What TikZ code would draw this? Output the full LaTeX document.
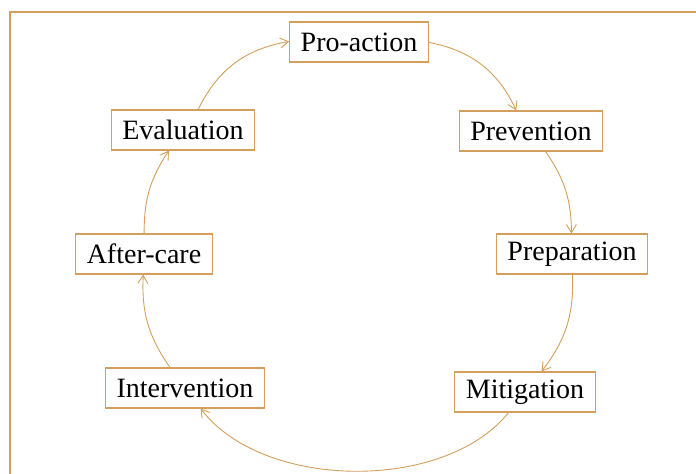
\documentclass[tikz,border=0pt]{standalone}
\usepackage{fontspec}
\setmainfont{Liberation Serif}
\usetikzlibrary{arrows.meta}
\definecolor{tan}{RGB}{212,158,92}

\begin{document}
\begin{tikzpicture}[x=0.5pt,y=-0.5pt,
  stage/.style={draw=tan,line width=0.6pt,fill=white,minimum height=20pt,inner xsep=5.5pt,
    font=\fontsize{14}{16}\selectfont},
  flow/.style={draw=tan,line width=0.45pt,-{Straight Barb[length=4pt,width=5pt]}}]
\useasboundingbox (0,0) rectangle (696,474);
% frame
\draw[tan,line width=0.6pt] (10,474) -- (10,12) -- (696,12);
% stages
\node[stage] (pro)  at (359,42)  {Pro-action};
\node[stage] (prev) at (531,131) {Prevention};
\node[stage] (prep) at (572,254) {Preparation};
\node[stage] (miti) at (525,392) {Mitigation};
\node[stage] (inte) at (185,388) {Intervention};
\node[stage] (aftr) at (144,254) {After-care};
\node[stage] (eval) at (183,130) {Evaluation};
% cycle
\draw[flow] (pro)  to[bend left=27] (prev);
\draw[flow] (prev) to[bend left=17] (prep);
\draw[flow] (prep) to[bend left=20] (miti);
\draw[flow] (miti) to[bend left=52,looseness=0.85] (inte);
\draw[flow] (inte) to[bend left=19] (aftr);
\draw[flow] (aftr) to[bend left=17] (eval);
\draw[flow] (eval) to[bend left=27] (pro);
\end{tikzpicture}
\end{document}
